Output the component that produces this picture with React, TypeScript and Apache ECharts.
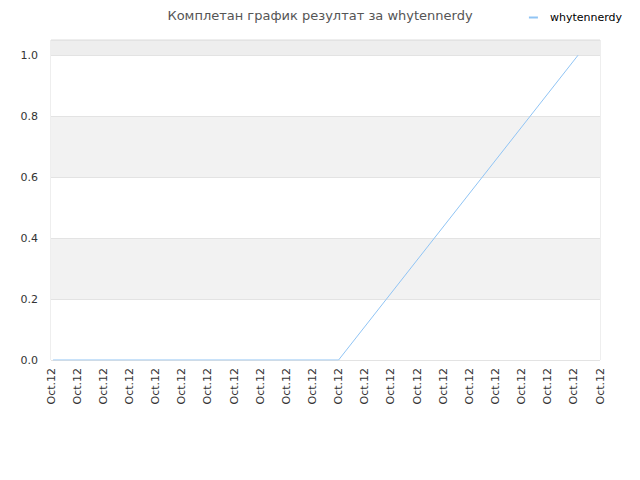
import React, { useEffect, useRef } from "react";
import * as echarts from "echarts";

const xTickLabels: string[] = Array.from({ length: 22 }, () => "Oct.12");
const seriesX: number[] = [0.08, 11, 20.16];
const seriesY: number[] = [0, 0, 1];
const seriesName = "whytennerdy";
const titleText = "Комплетан график резултат за whytennerdy";

export default function App() {
  const ref = useRef<HTMLDivElement>(null);
  useEffect(() => {
    if (!ref.current) return;
    const chart = echarts.init(ref.current, null, { renderer: "svg" });
    const font = "DejaVu Sans";
    chart.setOption({
      animation: false,
      backgroundColor: "#ffffff",
      title: {
        text: titleText,
        left: "center",
        top: 4,
        textStyle: { fontFamily: font, fontSize: 13, fontWeight: "normal", color: "#555555" },
      },
      legend: {
        right: 13,
        top: 7,
        itemWidth: 9,
        itemHeight: 2,
        itemGap: 10,
        icon: "rect",
        textStyle: { fontFamily: font, fontSize: 11, color: "#000000", padding: [0, 0, 0, 7] },
        data: [seriesName],
      },
      grid: {
        left: 51,
        right: 40,
        top: 40,
        bottom: 120,
        show: true,
        borderColor: "#dddddd",
        borderWidth: 1,
      },
      xAxis: {
        type: "value",
        min: 0,
        max: xTickLabels.length - 1,
        interval: 1,
        axisLine: { show: false },
        axisTick: { show: false },
        splitLine: { show: false },
        axisLabel: {
          rotate: 90,
          margin: 8,
          fontFamily: font,
          fontSize: 11,
          color: "#333333",
          formatter: (v: number) => xTickLabels[Math.round(v)] ?? "",
        },
      },
      yAxis: {
        type: "value",
        min: 0,
        max: 1.05,
        interval: 0.2,
        axisLine: { show: false },
        axisTick: { show: false },
        splitLine: { show: true, lineStyle: { color: "#e3e3e3" } },
        splitArea: {
          show: true,
          areaStyle: { color: ["#ffffff", "#f2f2f2", "#ffffff", "#f2f2f2", "#ffffff", "#eeeeee"] },
        },
        axisLabel: {
          margin: 13,
          fontFamily: font,
          fontSize: 11,
          color: "#333333",
          formatter: (v: number) => (v > 1.001 ? "" : v.toFixed(1)),
        },
      },
      series: [
        {
          name: seriesName,
          type: "line",
          data: seriesX.map((x, i) => [x, seriesY[i]]),
          showSymbol: false,
          symbol: "none",
          lineStyle: { color: "#90c4f4", width: 1 },
          itemStyle: { color: "#90c4f4" },
        },
      ],
    });
    return () => chart.dispose();
  }, []);
  return <div ref={ref} style={{ width: 640, height: 480, position: "absolute", left: 0, top: 0 }} />;
}
